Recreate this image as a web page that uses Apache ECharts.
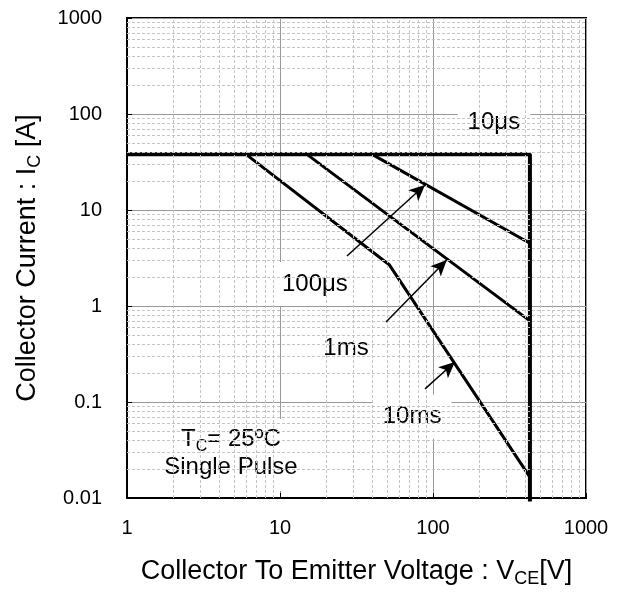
<!DOCTYPE html>
<html lang="en">
<head>
  <meta charset="UTF-8">
  <title>SOA</title>
  <script src="https://cdn.jsdelivr.net/npm/echarts@6/dist/echarts.min.js"></script>
</head>
<body style="margin:0;background:#fff;">
  <div id="main" style="width:621px;height:613px;"></div>
  <script>
    // safe operating area limits
    var vLimit = 430;
    var iLimit = 38;
    var soaX = [1, vLimit, vLimit];
    var soaY = [iLimit, iLimit, 0.0092];

    // pulse lines (V, A)
    var us100X = [40, 430];
    var us100Y = [38, 4.5];
    var ms1X = [15, 430];
    var ms1Y = [38, 0.7];
    var ms10X = [6, 52, 430];
    var ms10Y = [38, 2.67, 0.0165];

    // decades that get the 2..9 minor grid
    var xDecades = [1, 10, 100];
    var yDecades = [0.01, 0.1, 1, 10, 100];

    // annotation labels and arrows (data coords)
    var labelText = ['10μs', '100μs', '1ms', '10ms', 'tc'];
    var labelX = [250, 16.9, 27, 73, 4.78];
    var labelY = [82, 1.69, 0.365, 0.07, 0.028];
    var arrowFrom = [[27.4, 3.32], [49.3, 0.681], [88.7, 0.137]];
    var arrowTo = [[88.7, 18.2], [123, 3.01], [139, 0.261]];

    function pairs(xs, ys) {
      var out = [];
      for (var i = 0; i < xs.length; i++) out.push([xs[i], ys[i]]);
      return out;
    }

    var minorLines = [];
    xDecades.forEach(function (d) {
      for (var k = 2; k <= 9; k++) minorLines.push({ xAxis: d * k });
    });
    yDecades.forEach(function (d) {
      for (var k = 2; k <= 9; k++) minorLines.push({ yAxis: d * k });
    });

    var chart = echarts.init(document.getElementById('main'));
    var font = 'Liberation Sans, Arial, sans-serif';
    var fmt = function (v) { return String(parseFloat(v.toPrecision(6))); };

    var labelData = [];
    for (var i = 0; i < labelText.length; i++) {
      labelData.push({ value: [labelX[i], labelY[i]], name: labelText[i] });
    }

    // main text hangs from the line top, subscript sits on the line bottom
    var titleRich = {
      a: { fontSize: 27, color: '#000', fontFamily: font, verticalAlign: 'top', lineHeight: 30 },
      s: { fontSize: 18, color: '#000', fontFamily: font, verticalAlign: 'bottom', lineHeight: 30 }
    };

    var option = {
      animation: false,
      textStyle: { fontFamily: font },
      grid: {
        left: 127, right: 35, top: 18, bottom: 115,
        containLabel: false, outerBoundsMode: 'none',
        show: true, borderColor: '#000', borderWidth: 2, backgroundColor: 'transparent'
      },
      xAxis: {
        type: 'log', logBase: 10, min: 1, max: 1000, splitNumber: 3,
        name: '{a|Collector To Emitter Voltage : V}{s|CE}{a|[V]}',
        nameLocation: 'middle', nameGap: 60,
        nameTextStyle: { rich: titleRich },
        axisLine: { lineStyle: { color: '#000', width: 2 } },
        axisTick: { inside: true, length: 5, lineStyle: { color: '#000' } },
        axisLabel: { color: '#000', fontSize: 20, margin: 20, formatter: fmt },
        splitLine: { show: true, lineStyle: { color: '#999', width: 1 } }
      },
      yAxis: {
        type: 'log', logBase: 10, min: 0.01, max: 1000, splitNumber: 5,
        name: '{a|Collector Current : I}{s|C}{a| [A]}',
        nameLocation: 'middle', nameRotate: 90, nameGap: 83,
        nameTextStyle: { rich: titleRich },
        axisLine: { lineStyle: { color: '#000', width: 2 } },
        axisTick: { inside: true, length: 5, lineStyle: { color: '#000' } },
        axisLabel: { color: '#000', fontSize: 20, margin: 25, formatter: fmt },
        splitLine: { show: true, lineStyle: { color: '#999', width: 1 } }
      },
      series: [
        {
          type: 'line', data: [], z: 1, silent: true,
          markLine: {
            silent: true, symbol: 'none', label: { show: false }, animation: false,
            lineStyle: { color: '#c4c4c4', width: 1, type: [3, 2] },
            data: minorLines
          }
        },
        {
          type: 'line', data: pairs(soaX, soaY), showSymbol: false, clip: false, z: 3,
          lineStyle: { color: '#000', width: 4 }
        },
        {
          type: 'line', data: pairs(us100X, us100Y), showSymbol: false, z: 3,
          lineStyle: { color: '#000', width: 3 }
        },
        {
          type: 'line', data: pairs(ms1X, ms1Y), showSymbol: false, z: 3,
          lineStyle: { color: '#000', width: 3 }
        },
        {
          type: 'line', data: pairs(ms10X, ms10Y), showSymbol: false, z: 3,
          lineStyle: { color: '#000', width: 3 }
        },
        {
          type: 'scatter', data: labelData, symbolSize: 1, z: 4, silent: true,
          itemStyle: { color: 'rgba(0,0,0,0)', opacity: 1 },
          label: {
            show: true, position: 'inside', color: '#000', fontSize: 24,
            backgroundColor: '#fff', padding: [8, 10, 8, 10], lineHeight: 28,
            formatter: function (p) {
              if (p.name === 'tc') return '{a|T}{s|C}{a|= 25ºC}\n{a|Single Pulse}';
              return p.name;
            },
            rich: {
              a: { fontSize: 24, color: '#000', verticalAlign: 'top', lineHeight: 28 },
              s: { fontSize: 16, color: '#000', verticalAlign: 'bottom', lineHeight: 28 }
            }
          }
        },
        {
          type: 'line', data: [], z: 5,
          markLine: {
            silent: true, animation: false, symbol: ['none', 'arrow'], symbolSize: [11, 16],
            label: { show: false },
            lineStyle: { color: '#000', width: 1.5, type: 'solid' },
            data: arrowFrom.map(function (f, i) {
              return [{ coord: f }, { coord: arrowTo[i] }];
            })
          }
        }
      ]
    };
    chart.setOption(option);
  </script>
</body>
</html>
